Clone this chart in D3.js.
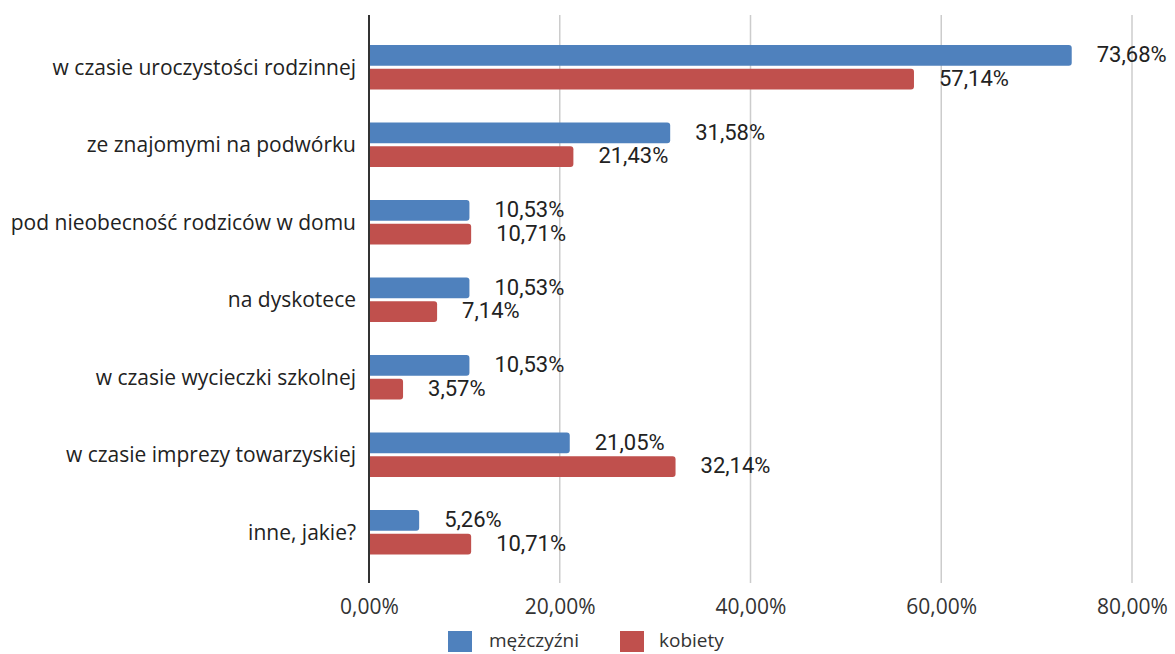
<!DOCTYPE html>
<html><head><meta charset="utf-8">
<script src="https://cdn.jsdelivr.net/npm/d3@7"></script>
<style>body{margin:0;background:#fff}</style>
</head><body>
<svg id="c" width="1175" height="654"></svg>
<script>
const categories = ["w czasie uroczystości rodzinnej","ze znajomymi na podwórku","pod nieobecność rodziców w domu","na dyskotece","w czasie wycieczki szkolnej","w czasie imprezy towarzyskiej","inne, jakie?"];
const seriesNames = ["mężczyźni","kobiety"];
const men = [73.68,31.58,10.53,10.53,10.53,21.05,5.26];
const women = [57.14,21.43,10.71,7.14,3.57,32.14,10.71];
const tickValues = [0,20,40,60,80];
const colors = ["#4f81bd","#c0504d"];

const svg = d3.select("#c");
const x = d3.scaleLinear().domain([0,80]).range([369,1132]);
const y = d3.scaleBand().domain(categories).range([28.5,571]);
const ys = d3.scaleBand().domain(seriesNames).range([-22.3,22.3]).paddingInner(0.12);
const fmt = v => v.toFixed(2).replace(".",",") + "%";

// gridlines
svg.append("g").selectAll("line").data(tickValues.slice(1)).join("line")
  .attr("x1",d=>x(d)).attr("x2",d=>x(d)).attr("y1",15).attr("y2",583)
  .attr("stroke","#cccccc").attr("stroke-width",1.5);

// tick labels via axis
const ax = svg.append("g").attr("transform","translate(0,583)")
  .call(d3.axisBottom(x).tickValues(tickValues).tickFormat(fmt).tickSize(0).tickPadding(16));
ax.select(".domain").remove();
ax.selectAll("text").attr("font-family","Open Sans").attr("font-size",21).attr("fill","#333");

const data = [men, women];
const bw = ys.bandwidth();
function barPath(x0, y0, w, h, r){
  r = Math.min(r, w);
  return `M${x0},${y0}H${x0+w-r}Q${x0+w},${y0} ${x0+w},${y0+r}V${y0+h-r}Q${x0+w},${y0+h} ${x0+w-r},${y0+h}H${x0}Z`;
}
seriesNames.forEach((s,si)=>{
  const g = svg.append("g");
  g.selectAll("path").data(categories).join("path")
    .attr("d",(c,i)=>barPath(x(0), y(c)+y.bandwidth()/2+ys(s), x(data[si][i])-x(0), bw, 3))
    .attr("fill",colors[si]);
  g.selectAll("text").data(categories).join("text")
    .attr("x",(c,i)=>x(data[si][i])+25)
    .attr("y",(c,i)=>y(c)+y.bandwidth()/2+ys(s)+bw/2 - 1)
    .attr("dy","0.35em")
    .attr("font-family","Roboto").attr("font-size",22).attr("fill","#222")
    .text((c,i)=>fmt(data[si][i]));
});

// category labels
svg.append("g").selectAll("text").data(categories).join("text")
  .attr("x",356).attr("y",c=>y(c)+y.bandwidth()/2).attr("dy","0.35em")
  .attr("text-anchor","end").attr("font-family","Open Sans").attr("font-size",21).attr("fill","#222")
  .text(c=>c);

// axis line
svg.append("line").attr("x1",x(0)).attr("x2",x(0)).attr("y1",15).attr("y2",583)
  .attr("stroke","#333").attr("stroke-width",2);

// legend
const leg = [{s:seriesNames[0],x:448,tx:489},{s:seriesNames[1],x:620,tx:659}];
leg.forEach((l,i)=>{
  svg.append("rect").attr("x",l.x).attr("y",631).attr("width",24).attr("height",21).attr("fill",colors[i]);
  svg.append("text").attr("x",l.tx).attr("y",640).attr("dy","0.35em")
    .attr("font-family","Open Sans").attr("font-size",19).attr("fill","#333").text(l.s);
});
</script>
</body></html>
